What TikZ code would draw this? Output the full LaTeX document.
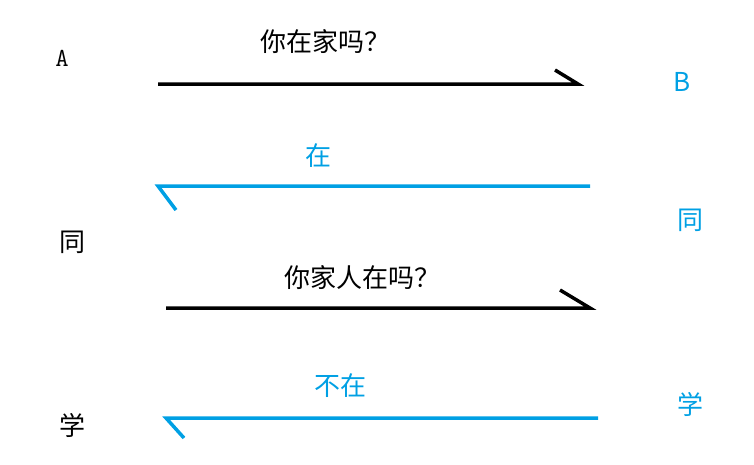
\documentclass[tikz,border=0pt]{standalone}
\usepackage{fontspec}
\newfontfamily\cjk{Noto Sans CJK SC}
\definecolor{myblue}{RGB}{0,160,228}
\begin{document}
\begin{tikzpicture}[x=1pt,y=-1pt,
  lbl/.style={font=\cjk\fontsize{26}{30}\selectfont},
  ln/.style={line width=3.5pt},
  hk/.style={line width=3.5pt}]
\useasboundingbox (0,0) rectangle (754,464);
\node[lbl] (a1) at (62,58) {\fontfamily{lmtt}\selectfont A};
\node[lbl] (a2) at (72,242) {同};
\node[lbl] (a3) at (72,425) {学};
\node[lbl,myblue] (b1) at (682,82) {B};
\node[lbl,myblue] (b2) at (690,220) {同};
\node[lbl,myblue] (b3) at (690,404) {学};
\node[lbl] (t1) at (325,42) {你在家吗？};
\node[lbl,myblue] (t2) at (318,156) {在};
\node[lbl] (t3) at (362,278) {你家人在吗？};
\node[lbl,myblue] (t4) at (340,386) {不在};
\coordinate (s1) at (158,84); \coordinate (e1) at (578,84); \coordinate (h1) at (555,70);
\coordinate (s2) at (590,186); \coordinate (e2) at (158,186); \coordinate (h2) at (176,210);
\coordinate (s3) at (166,308); \coordinate (e3) at (590,308); \coordinate (h3) at (560,290);
\coordinate (s4) at (598,418); \coordinate (e4) at (166,418); \coordinate (h4) at (184,438);
\draw[ln] (s1) -- (e1) -- (h1);
\draw[ln,myblue] (s2) -- (e2) -- (h2);
\draw[ln] (s3) -- (e3) -- (h3);
\draw[ln,myblue] (s4) -- (e4) -- (h4);
\end{tikzpicture}
\end{document}
